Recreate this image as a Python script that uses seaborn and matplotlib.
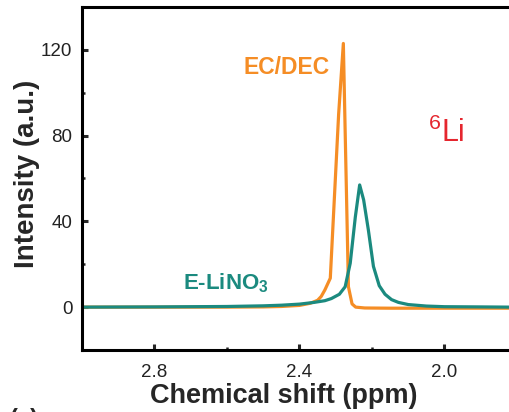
import matplotlib
matplotlib.use("Agg")
import matplotlib.pyplot as plt
from matplotlib.ticker import MultipleLocator
import seaborn as sns
import pandas as pd

# ---- data ----
ecdec_x = [3.00, 2.80, 2.60, 2.50, 2.45, 2.40, 2.37, 2.35, 2.34, 2.33, 2.315,
           2.292, 2.279, 2.274, 2.265, 2.255, 2.245, 2.22, 2.15, 2.00, 1.82]
ecdec_y = [0.0, 0.0, 0.0, 0.1, 0.3, 0.8, 1.8, 3.2, 5.0, 8.0, 13.5,
           90.0, 123.0, 82.0, 9.5, 1.5, 0.0, -0.4, -0.5, -0.5, -0.5]

lino3_x = [3.00, 2.80, 2.60, 2.50, 2.45, 2.40, 2.36, 2.33, 2.312, 2.29, 2.274,
           2.260, 2.246, 2.234, 2.223, 2.210, 2.196, 2.180, 2.164, 2.146,
           2.127, 2.10, 2.05, 2.00, 1.90, 1.82]
lino3_y = [0.0, 0.1, 0.3, 0.6, 0.9, 1.4, 2.2, 3.0, 4.0, 6.0, 9.5,
           20.5, 42.0, 57.0, 50.0, 36.0, 19.0, 10.0, 6.0, 3.5,
           2.2, 1.2, 0.5, 0.2, 0.1, 0.0]

series_names = ["EC/DEC", "E-LiNO$_3$"]
series_colors = ["#F58D25", "#1B8A7F"]
x_ticks = [2.8, 2.4, 2.0]
y_ticks = [0, 40, 80, 120]

df = pd.concat([
    pd.DataFrame({"shift": ecdec_x, "intensity": ecdec_y, "sample": series_names[0]}),
    pd.DataFrame({"shift": lino3_x, "intensity": lino3_y, "sample": series_names[1]}),
], ignore_index=True)

sns.set_theme(style="ticks")
plt.rcParams["font.family"] = ["Liberation Sans", "DejaVu Sans"]
plt.rcParams["mathtext.default"] = "regular"

fig = plt.figure(figsize=(5.09, 4.12), dpi=100)
ax = fig.add_axes([82 / 509, 1 - 350 / 412, 1 - 82 / 509, (350 - 7) / 412])

sns.lineplot(data=df, x="shift", y="intensity", hue="sample",
             hue_order=series_names, palette=series_colors,
             sort=False, estimator=None, linewidth=2.3, legend=False, ax=ax)

ax.set_xlim(3.0, 1.822)
ax.set_ylim(-20, 140)
ax.set_xticks(x_ticks)
ax.set_xticklabels([f"{t:.1f}" for t in x_ticks])
ax.set_yticks(y_ticks)
ax.xaxis.set_minor_locator(MultipleLocator(0.2))
ax.yaxis.set_minor_locator(MultipleLocator(20))

for s in ["left", "bottom", "top"]:
    ax.spines[s].set_linewidth(2.2)
    ax.spines[s].set_color("black")
ax.spines["right"].set_visible(False)

ax.tick_params(which="major", direction="in", length=4, width=2.2,
               labelsize=13.5, labelcolor="#222222", pad=7,
               top=False, right=False)
ax.tick_params(axis="x", which="major", pad=10)
ax.tick_params(which="minor", direction="in", length=2.5, width=1.8,
               top=False, right=False)

ax.set_xlabel("Chemical shift (ppm)", fontsize=19.5, fontweight="bold")
ax.set_ylabel("Intensity (a.u.)", fontsize=20, fontweight="bold")
ax.xaxis.set_label_coords(0.473, -0.097)
ax.yaxis.set_label_coords(-0.098, 0.513)

ax.text(2.437, 112, "EC/DEC", color=series_colors[0], fontsize=16.5,
        fontweight="bold", ha="center", va="center")
ax.text(2.72, 11, "E-LiNO$_3$", color=series_colors[1], fontsize=16,
        fontweight="bold", ha="left", va="center")
ax.text(1.995, 81, "$^{6}$Li", color="#E5262E", fontsize=22,
        ha="center", va="center")

fig.text(10 / 509, 1 - 408 / 412, "(a)", fontsize=17, fontweight="bold",
         ha="left", va="top")

fig.savefig("out.png", dpi=100)
